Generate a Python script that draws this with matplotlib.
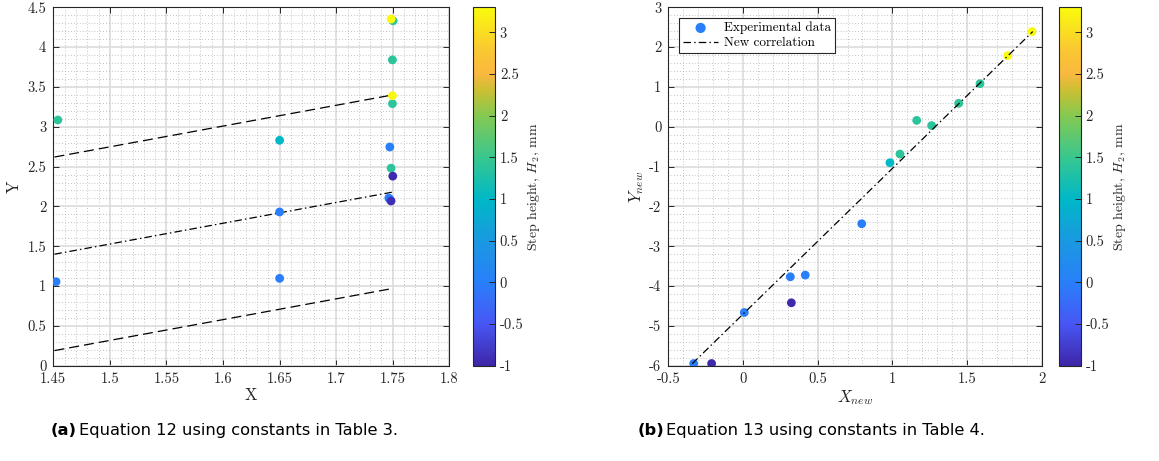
import matplotlib
matplotlib.use('Agg')
import matplotlib.pyplot as plt
from matplotlib.colors import LinearSegmentedColormap, Normalize
from matplotlib.ticker import MultipleLocator, FormatStrFormatter
import numpy as np

plt.rcParams['font.family'] = ['cmr10', 'DejaVu Serif']
plt.rcParams['mathtext.fontset'] = 'cm'
plt.rcParams['axes.unicode_minus'] = False

# --- data, panel (a) ---
xa = [1.4524, 1.454, 1.65, 1.65, 1.65, 1.7503, 1.7497, 1.7497, 1.7474,
      1.7485, 1.7465, 1.7474, 1.7500, 1.7485, 1.7485, 1.7497]
ya = [1.055, 3.085, 2.83, 1.93, 1.097, 4.33, 3.84, 3.29, 2.746,
      2.48, 2.105, 2.09, 2.38, 2.068, 4.353, 3.39]
ca = [0.0, 1.4, 1.0, 0.0, 0.0, 1.4, 1.4, 1.4, 0.0,
      1.4, 0.0, 0.0, -0.95, -0.9, 3.3, 3.25]

band_x = [1.451, 1.75]
mid_y = [1.40, 2.18]
upper_y = [2.62, 3.40]
lower_y = [0.19, 0.97]

# --- data, panel (b) ---
xb = [-0.330, -0.210, 0.009, 0.317, 0.324, 0.417, 0.795, 0.984, 1.051,
      1.163, 1.263, 1.444, 1.587, 1.772, 1.935]
yb = [-5.945, -5.945, -4.663, -3.767, -4.42, -3.725, -2.435, -0.903, -0.685,
      0.16, 0.03, 0.588, 1.082, 1.786, 2.389]
cb = [0.0, -0.95, 0.0, 0.0, -0.95, 0.0, 0.0, 1.0, 1.4,
      1.4, 1.4, 1.4, 1.4, 3.3, 3.3]

corr_x = [-0.34, 1.94]
corr_y = [-5.95, 2.39]

# parula-like colormap
par_pos = [0.0, 0.116, 0.233, 0.349, 0.465, 0.581, 0.698, 0.77, 0.814, 0.88, 1.0]
par_col = [(0.24, 0.15, 0.66), (0.28, 0.34, 0.96), (0.16, 0.50, 0.98),
           (0.10, 0.60, 0.88), (0.0, 0.72, 0.78), (0.22, 0.78, 0.56),
           (0.52, 0.79, 0.32), (0.80, 0.75, 0.20), (0.98, 0.72, 0.25),
           (0.98, 0.78, 0.20), (0.98, 0.98, 0.05)]
parula = LinearSegmentedColormap.from_list('parula', list(zip(par_pos, par_col)))
norm = Normalize(vmin=-1, vmax=3.3)

fig = plt.figure(figsize=(11.59, 4.61), dpi=100)

spine_c = '#262626'


def style_axes(ax, xmaj, xmin_, ymaj, ymin_):
    ax.xaxis.set_major_locator(MultipleLocator(xmaj))
    ax.xaxis.set_minor_locator(MultipleLocator(xmin_))
    ax.yaxis.set_major_locator(MultipleLocator(ymaj))
    ax.yaxis.set_minor_locator(MultipleLocator(ymin_))
    ax.xaxis.set_major_formatter(FormatStrFormatter('%g'))
    ax.yaxis.set_major_formatter(FormatStrFormatter('%g'))
    ax.grid(which='major', color='#dcdcdc', lw=1.2)
    ax.grid(which='minor', color='#b0b0b0', lw=0.6, ls=(0, (1, 2.5)))
    ax.set_axisbelow(True)
    ax.tick_params(which='major', direction='in', length=4, top=True, right=True,
                   labelsize=10.5, colors=spine_c, width=0.7, pad=5)
    ax.tick_params(which='minor', length=0, top=True, right=True)
    for s in ax.spines.values():
        s.set_color(spine_c)
        s.set_linewidth(0.8)


def add_cbar(sc, rect):
    cax = fig.add_axes(rect)
    cbar = fig.colorbar(sc, cax=cax)
    cbar.set_ticks(np.arange(-1, 3.01, 0.5))
    cbar.ax.yaxis.set_major_formatter(FormatStrFormatter('%g'))
    cbar.ax.tick_params(direction='in', length=4, labelsize=10.5, colors=spine_c, width=0.7)
    cbar.outline.set_edgecolor(spine_c)
    cbar.outline.set_linewidth(0.8)
    cbar.set_label('Step height, $H_2$, mm', fontsize=10, color=spine_c, labelpad=1)
    return cbar


# panel (a)
ax1 = fig.add_axes([0.046, 0.2067, 0.3417, 0.7775])
ax1.plot(band_x, upper_y, color='black', lw=0.9, ls=(0, (8, 4)))
ax1.plot(band_x, lower_y, color='black', lw=0.9, ls=(0, (8, 4)))
ax1.plot(band_x, mid_y, color='black', lw=0.9, ls=(0, (6, 2.5, 1.2, 2.5)))
sc1 = ax1.scatter(xa, ya, c=ca, cmap=parula, norm=norm, s=40, edgecolors='none', zorder=3)
ax1.set_xlim(1.45, 1.8)
ax1.set_ylim(0, 4.5)
style_axes(ax1, 0.05, 0.01, 0.5, 0.1)
ax1.set_xlabel('X', fontsize=12, color=spine_c, labelpad=1)
ax1.set_ylabel('Y', fontsize=12, color=spine_c, labelpad=4)
add_cbar(sc1, [0.4079, 0.2067, 0.0192, 0.7775])

# panel (b)
ax2 = fig.add_axes([0.5766, 0.2067, 0.3222, 0.7775])
sc2 = ax2.scatter(xb, yb, c=cb, cmap=parula, norm=norm, s=40, edgecolors='none',
                  zorder=3, label='Experimental data')
ax2.plot(corr_x, corr_y, color='black', lw=0.9, ls=(0, (6, 2.5, 1.2, 2.5)),
         label='New correlation', zorder=4)
ax2.set_xlim(-0.5, 2)
ax2.set_ylim(-6, 3)
style_axes(ax2, 0.5, 0.1, 1, 0.2)
ax2.set_xlabel('$X_{new}$', fontsize=12, color=spine_c, labelpad=1)
ax2.set_ylabel('$Y_{new}$', fontsize=12, color=spine_c, labelpad=2)
leg = ax2.legend(loc='upper left', fontsize=9.5, frameon=True, fancybox=False,
                 edgecolor=spine_c, framealpha=1, borderaxespad=0.8,
                 handlelength=2.7, handletextpad=0.4, borderpad=0.3, labelspacing=0.2)
leg.get_frame().set_linewidth(0.8)
leg.legend_handles[0].set_color(parula(norm(0.0)))
add_cbar(sc2, [0.914, 0.2067, 0.0185, 0.7775])

# captions
cap_font = ['DejaVu Sans']
fs_cap = 11.7
fig.text(0.044, 0.067, '(a)', fontsize=fs_cap, fontweight='bold', family=cap_font, va='center')
fig.text(0.0685, 0.067, 'Equation 12 using constants in Table 3.', fontsize=fs_cap,
         family=cap_font, va='center')
fig.text(0.550, 0.067, '(b)', fontsize=fs_cap, fontweight='bold', family=cap_font, va='center')
fig.text(0.5745, 0.067, 'Equation 13 using constants in Table 4.', fontsize=fs_cap,
         family=cap_font, va='center')

fig.savefig('out.png', dpi=100)
